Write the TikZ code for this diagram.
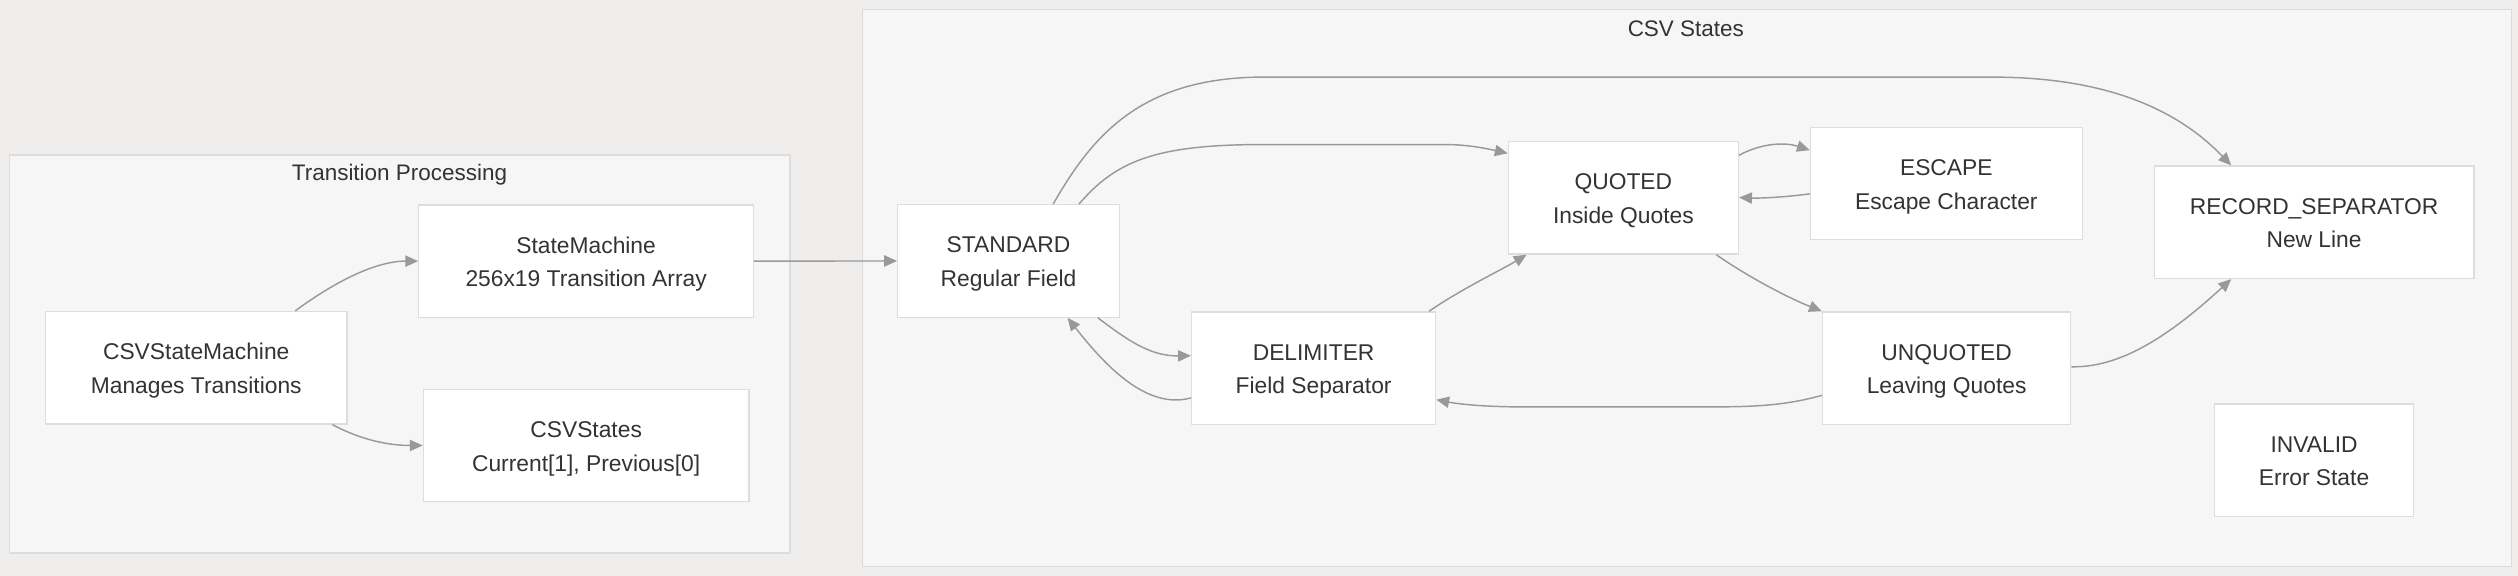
\documentclass[tikz,border=0pt]{standalone}
\usepackage{fontspec}
\setmainfont{Liberation Sans}
\usetikzlibrary{arrows.meta,calc}
\definecolor{pagebg}{HTML}{EFEEED}
\definecolor{clfill}{HTML}{F6F6F6}
\definecolor{clline}{HTML}{DCDCDC}
\definecolor{ndline}{HTML}{DDDDDD}
\definecolor{edgec}{HTML}{999999}
\definecolor{txt}{HTML}{333333}
\begin{document}
\begin{tikzpicture}[x=1pt,y=-1pt,
  cluster/.style={draw=clline, fill=clfill, line width=0.8pt, inner sep=0, anchor=north west},
  cltitle/.style={text=txt, font=\fontsize{14}{17}\selectfont, inner sep=0},
  box/.style={draw=ndline, fill=white, line width=0.8pt, inner sep=0, align=center, text=txt,
    font=\fontsize{14.2}{21}\selectfont, minimum height=70pt, text height=32pt, text depth=0pt},
  conn/.style={draw=edgec, line width=0.9pt, -{Triangle[length=8pt,width=7pt]}}]
\fill[pagebg] (0,0) rectangle (1568,358.6);
\useasboundingbox (0,0) rectangle (1568,358.6);

% clusters
\node[cluster, minimum width=485.8pt, minimum height=247.8pt] (tp) at (5.7,96.1) {};
\node[cltitle] (tpt) at (248.8,109) {Transition Processing};
\node[cluster, minimum width=1026.8pt, minimum height=346.6pt] (csv) at (536.6,5.7) {};
\node[cltitle] (csvt) at (1049.8,18.2) {CSV States};

% nodes
\node[box, minimum width=187.7pt] (csm) at (122.2,229) {CSVStateMachine\\Manages Transitions};
\node[box, minimum width=208.4pt] (sm) at (365,162.6) {StateMachine\\256x19 Transition Array};
\node[box, minimum width=202.7pt] (cs) at (365,277.4) {CSVStates\\Current[1], Previous[0]};
\node[box, minimum width=138pt] (std) at (628,162.5) {STANDARD\\Regular Field};
\node[box, minimum width=152pt] (dl) at (818,229.2) {DELIMITER\\Field Separator};
\node[box, minimum width=143.3pt] (qt) at (1010.9,123.2) {QUOTED\\Inside Quotes};
\node[box, minimum width=169.2pt] (es) at (1212,114.3) {ESCAPE\\Escape Character};
\node[box, minimum width=154.6pt] (uq) at (1212.2,229.2) {UNQUOTED\\Leaving Quotes};
\node[box, minimum width=199pt] (rs) at (1441,138.4) {RECORD\_SEPARATOR\\New Line};
\node[box, minimum width=123.8pt] (inv) at (1441,286.5) {INVALID\\Error State};

% connectors
\draw[conn] ($(csm.north west)+(155.9,0)$) .. controls (205,178) and (232,162.6) .. (sm.west);
\draw[conn] ($(csm.south east)+(-9.5,0)$) .. controls (225,274) and (242,277.4) .. (cs.west);
\draw[conn] (sm.east) -- (std.west);
\draw[conn] ($(std.north west)+(113.3,0)$) .. controls (695,100) and (720,90) .. (787,90)
  -- (900,90) .. controls (915,90) and (928,93) .. ($(qt.north west)+(0,7.7)$);
\draw[conn] ($(std.north west)+(97.2,0)$) .. controls (680,85) and (710,48) .. (787,48)
  -- (1240,48) .. controls (1300,48) and (1350,62) .. ($(rs.north west)+(48.3,0)$);
\draw[conn] ($(std.south west)+(125,0)$) .. controls (700,210) and (715,221.9) .. ($(dl.north west)+(0,27.7)$);
\draw[conn] ($(dl.north west)+(0,54)$) .. controls (715,255) and (690,230) .. ($(std.south west)+(106.2,0)$);
\draw[conn] ($(dl.north west)+(148.3,0)$) .. controls (910,180) and (935,168) .. ($(qt.south west)+(11.8,0)$);
\draw[conn] ($(qt.north east)+(0,8.9)$) .. controls (1095,90) and (1110,88) .. ($(es.north west)+(0,14.6)$);
\draw[conn] ($(es.north west)+(0,41.8)$) .. controls (1110,123) and (1095,123.5) .. ($(qt.north east)+(0,35.2)$);
\draw[conn] ($(qt.south east)+(-14.2,0)$) .. controls (1085,170) and (1110,184) .. (uq.north west);
\draw[conn] ($(uq.north west)+(0,52.4)$) .. controls (1110,253) and (1090,253.4) .. (1060,253.4)
  -- (950,253.4) .. controls (920,253.4) and (905,251) .. ($(dl.north east)+(0,55.1)$);
\draw[conn] ($(uq.north east)+(0,34.6)$) .. controls (1320,229) and (1350,210) .. ($(rs.south west)+(48.3,0)$);
\end{tikzpicture}
\end{document}
